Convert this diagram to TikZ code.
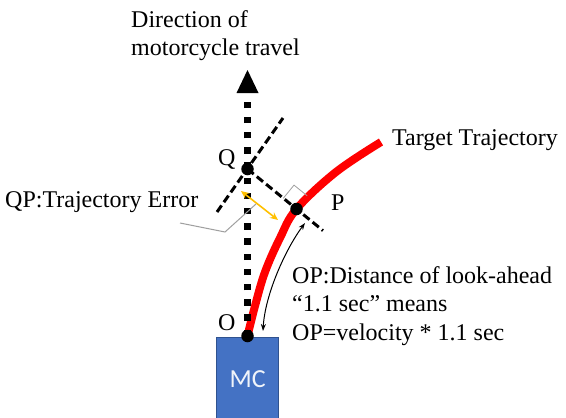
\documentclass[tikz,border=0pt]{standalone}
\usepackage{fontspec}
\setmainfont{Liberation Serif}
\newfontfamily\mcfont{Carlito}
\usetikzlibrary{arrows.meta}
\definecolor{mcblue}{HTML}{4472C4}
\definecolor{mcborder}{HTML}{2F528F}
\definecolor{gold}{HTML}{FFC000}
\definecolor{leadgray}{HTML}{A0A0A0}
\begin{document}
\begin{tikzpicture}[x=1pt,y=-1pt,
  lbl/.style={anchor=base west,inner sep=0pt,font=\fontsize{24}{28}\selectfont},
  ptdot/.style={circle,fill=black,inner sep=0pt,minimum size=12.5pt},
  dotline/.style={line width=6.5pt,dash pattern=on 6.5pt off 8.7pt},
  dashline/.style={line width=3pt,dash pattern=on 8pt off 4pt},
  traj/.style={red,line width=8pt},
  ]
\useasboundingbox (0,0) rectangle (566,418);

% key points
\coordinate (O) at (247.5,336);
\coordinate (Q) at (247.5,169);
\coordinate (P) at (296.5,209);
\coordinate (tip) at (247.5,70);
\coordinate (dotend) at (247.5,100);
\coordinate (qa) at (217,212);
\coordinate (qb) at (283,118);
\coordinate (pe) at (323,230.6);
\coordinate (tend) at (381,142);

% MC box
\node[draw=mcborder,fill=mcblue,line width=1.2pt,minimum width=62pt,minimum height=84pt,
      anchor=north west,inner sep=0pt,text=white!92!mcblue,
      font=\mcfont\fontsize{26}{30}\selectfont] (mc) at (216,337) {MC};

% target trajectory
\draw[traj] plot[smooth,tension=0.6] coordinates {(O) (255,306) (265,272) (280,238) (P) (336,172) (tend)};

% dashed lines
\draw[dashline] (qa) -- (qb);
\draw[dashline] (Q) -- (pe);

% right angle mark
\draw[leadgray,line width=0.8pt] (283.3,198.3) -- (294,185.1) -- (307.2,195.8);

% direction of travel
\draw[dotline,dash phase=0pt] (O) -- (dotend);
\fill (tip) -- ++(-11,23) -- ++(22,0) -- cycle;

% points
\node[ptdot] (Qd) at (Q) {};
\node[ptdot] (Pd) at (P) {};
\node[ptdot] (Od) at (O) {};

% trajectory error arrow
\coordinate (y1) at (241,191);
\coordinate (y2) at (278,220);
\draw[gold,line width=1.6pt,{Stealth[length=8pt,width=7pt]}-{Stealth[length=8pt,width=7pt]}] (y1) -- (y2);

% look-ahead arrow
\coordinate (a1) at (263,331);
\coordinate (a2) at (305,223);
\draw[line width=1pt,{Stealth[length=7pt,width=5pt]}-{Stealth[length=7pt,width=5pt]}] (a1) .. controls (265,295) and (285,250) .. (a2);

% leader line
\coordinate (l1) at (180,223);
\coordinate (l2) at (225,232);
\coordinate (l3) at (256,204);
\draw[leadgray,line width=1pt] (l1) -- (l2) -- (l3);

% labels
\node[lbl] (dir1) at (131,27) {Direction of};
\node[lbl] (dir2) at (131,55) {motorcycle travel};
\node[lbl] (tt) at (392,145) {Target Trajectory};
\node[lbl] (qp) at (5,207) {QP:Trajectory Error};
\node[lbl] (qlab) at (218,165) {Q};
\node[lbl] (plab) at (331,210) {P};
\node[lbl] (olab) at (218,330) {O};
\node[lbl] (op1) at (292,283) {OP:Distance of look-ahead};
\node[lbl] (op2) at (292,311.5) {“1.1 sec” means};
\node[lbl] (op3) at (292,340) {OP=velocity * 1.1 sec};
\end{tikzpicture}
\end{document}
